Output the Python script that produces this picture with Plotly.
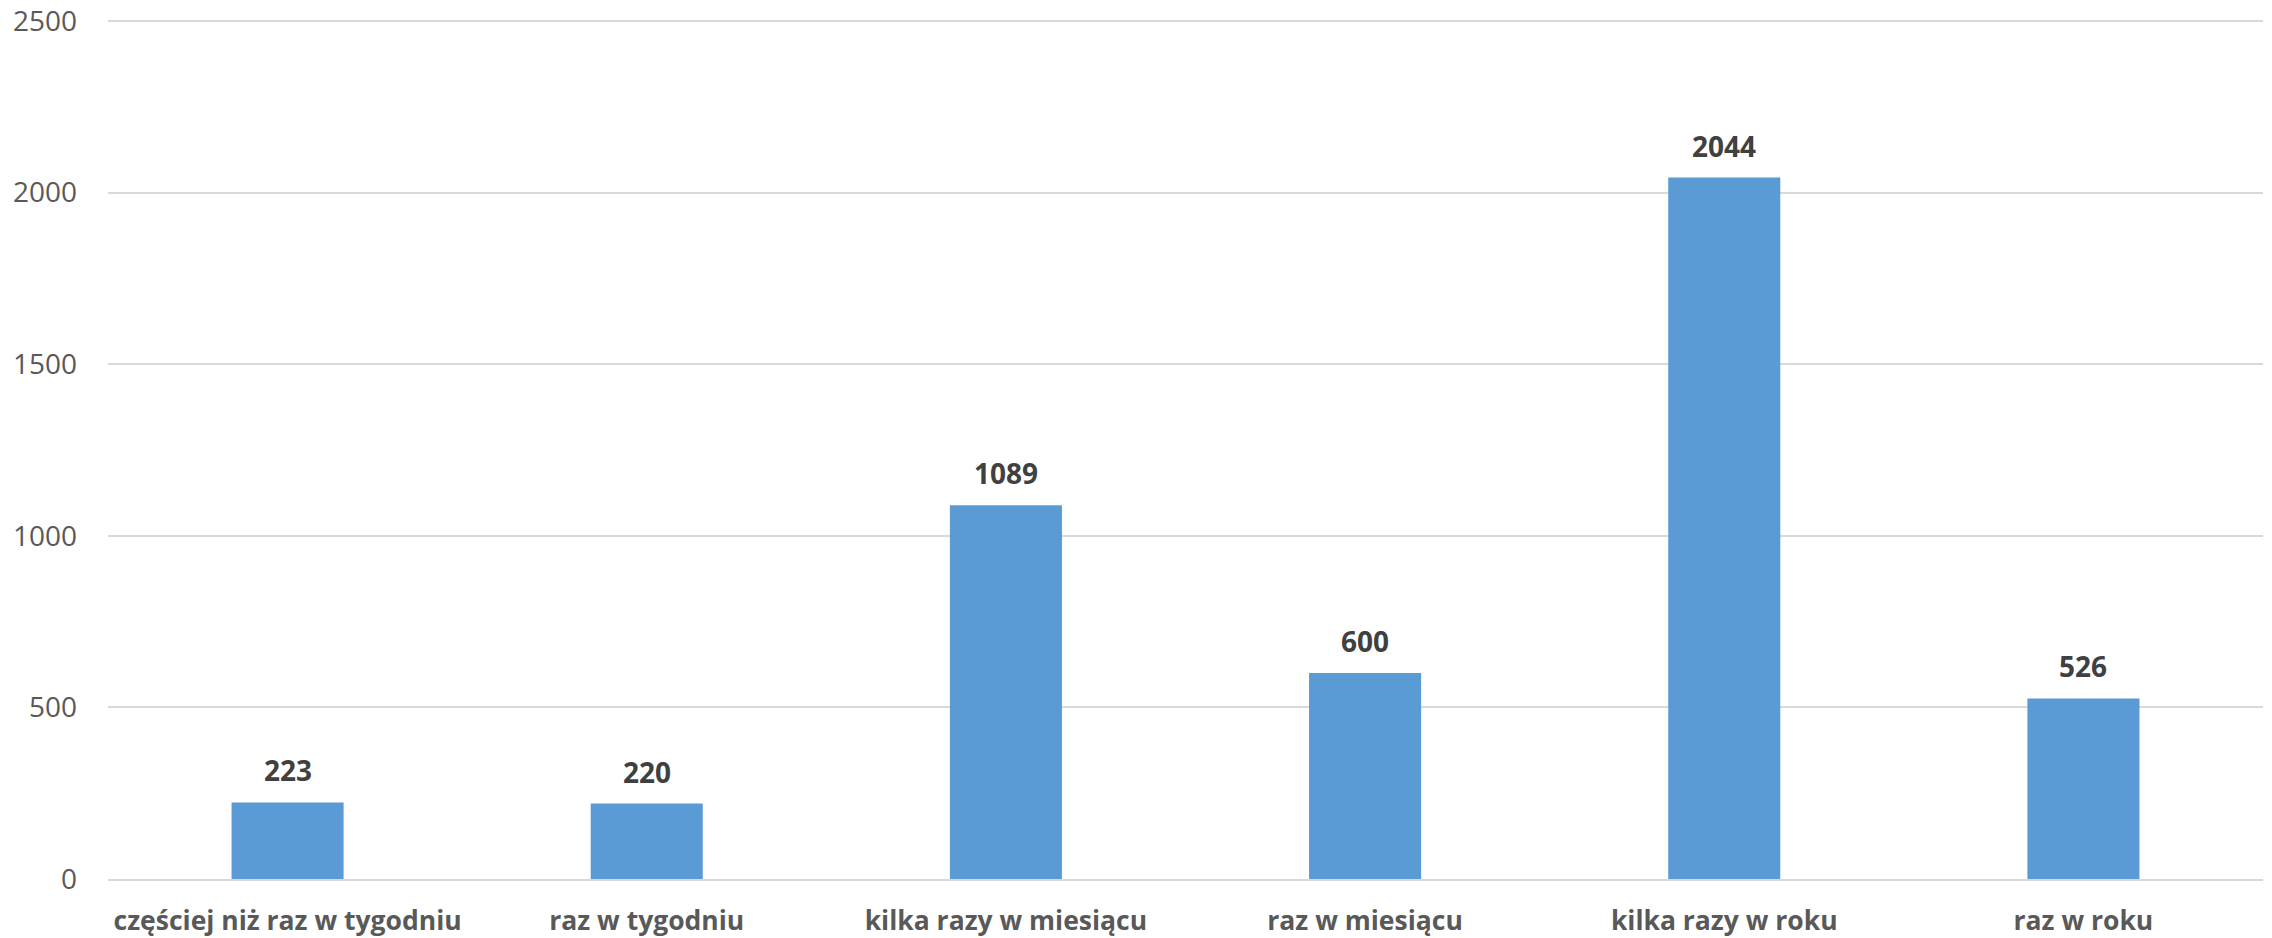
import plotly.graph_objects as go

categories = ["częściej niż raz w tygodniu", "raz w tygodniu", "kilka razy w miesiącu",
              "raz w miesiącu", "kilka razy w roku", "raz w roku"]
values = [223, 220, 1089, 600, 2044, 526]
y_ticks = [0, 500, 1000, 1500, 2000, 2500]

FONT = "Open Sans"

fig = go.Figure()
fig.add_trace(go.Bar(
    x=categories, y=values,
    marker=dict(color="#5B9BD5", line=dict(width=0)),
    hoverinfo="x+y",
))

for c, v in zip(categories, values):
    fig.add_annotation(x=c, y=v, text=f"<b>{v}</b>", showarrow=False,
                       yanchor="bottom", yshift=11,
                       font=dict(family=FONT, size=28, color="#404040"))

fig.update_layout(
    width=2272, height=938,
    margin=dict(l=108, r=9, t=20, b=59, autoexpand=False),
    paper_bgcolor="white", plot_bgcolor="white",
    bargap=0.688,
    showlegend=False,
    font=dict(family=FONT, color="#595959"),
)
fig.update_xaxes(
    automargin=False,
    showgrid=False, showline=True, linecolor="#d9d9d9", linewidth=2,
    ticks="", tickfont=dict(family=FONT, size=26.5, color="#595959", weight="bold"),
    ticklabelstandoff=17,
)
fig.update_yaxes(
    automargin=False,
    range=[0, 2503], tickvals=y_ticks, showgrid=True, gridcolor="#d9d9d9",
    gridwidth=2, zeroline=False, showline=False, ticks="",
    tickfont=dict(family=FONT, size=28, color="#595959"),
    ticklabelstandoff=30, ticklabeloverflow="allow",
)

# remove the default 8px page margin so the figure fills the window exactly
fig.write_html("out.html", config={"displayModeBar": False},
               post_script="document.body.style.margin='0';document.body.style.overflow='hidden';")
